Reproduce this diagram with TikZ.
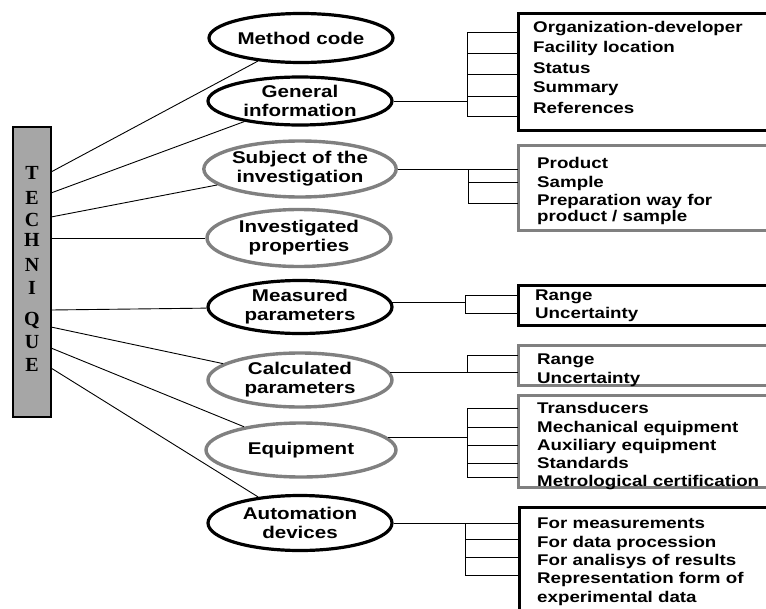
\documentclass[tikz,border=0pt]{standalone}
\usepackage{fontspec}
\newfontfamily\lbl{Liberation Sans}[FakeStretch=1.21]
\newfontfamily\tch{Liberation Serif}
\usetikzlibrary{shapes.geometric}
\begin{document}
\begin{tikzpicture}[x=1pt,y=-1pt,
  link/.style={line width=0.9pt},
  ovk/.style={ellipse, draw=black, line width=3.2pt, fill=white, minimum width=184pt, minimum height=52pt, inner sep=0pt, align=center, font=\lbl\bfseries\fontsize{17}{19}\selectfont},
  ovg/.style={ovk, draw=black!50, line width=3.4pt},
  boxk/.style={draw=black, line width=3pt, anchor=north west, inner sep=0pt, outer sep=0pt, minimum width=320pt},
  boxg/.style={boxk, draw=black!50},
  item/.style={anchor=west, inner sep=0pt, text height=11pt, text depth=0pt, font=\lbl\bfseries\fontsize{15.5}{18}\selectfont},
  letter/.style={inner sep=0pt, font=\tch\bfseries\fontsize{20}{20}\selectfont},
  techbox/.style={draw=black, line width=1.3pt, fill=black!35, anchor=north west, inner sep=0pt, outer sep=0pt, minimum width=38pt, minimum height=290pt}
]
\useasboundingbox (0,0) rectangle (766,608);
\clip (0,0) rectangle (766,608);

% TECHNIQUE column
\node[techbox] (tb) at (13,127) {};
\foreach \l/\y [count=\i] in {T/173,E/198,C/220,H/240,N/265,I/288,Q/320,U/342,E/365}
  \node[letter] (L\i) at (32,\y) {\l};

% ellipses
\node[ovk, minimum height=49pt] (e1) at (301,38) {Method code};
\node[ovk, minimum height=48pt] (e2) at (300,101) {General\\information};
\node[ovg, minimum height=56pt] (e3) at (300,169) {Subject of the\\investigation};
\node[ovg, minimum height=57pt] (e4) at (299,238) {Investigated\\properties};
\node[ovk, minimum height=53pt] (e5) at (300,307) {Measured\\parameters};
\node[ovg, minimum height=54pt] (e6) at (300,380) {Calculated\\parameters};
\node[ovg, minimum height=54pt, minimum width=190pt] (e7) at (301,450) {Equipment};
\node[ovk, minimum height=55pt] (e8) at (300,523) {Automation\\devices};

% links from TECHNIQUE
\foreach \y/\e in {172/e1,193/e2,217/e3,238/e4,310/e5,327/e6,348/e7,368/e8}
  \draw[link] (tb.east |- 0,\y) -- (\e);

% boxes
\node[boxk, minimum height=117pt] (b2) at (518,13) {};
\node[boxg, minimum height=85pt] (b3) at (518,145) {};
\node[boxk, minimum height=40pt] (b5) at (518,285) {};
\node[boxg, minimum height=40pt] (b6) at (518,345) {};
\node[boxg, minimum height=92pt] (b7) at (518,395) {};
\node[boxk, minimum height=140pt] (b8) at (519,507) {};

% brackets
\coordinate (j2) at (467,101);
\draw[link] (e2.east) -- (j2);
\draw[link] (467,32) -- (467,116);
\foreach \y in {32,53,74,96,116} \draw[link] (467,\y) -- (b2.west |- 0,\y);

\coordinate (j3) at (468,169);
\draw[link] (e3.east) -- (j3);
\draw[link] (468,169) -- (468,203);
\foreach \y in {169,182,203} \draw[link] (468,\y) -- (b3.west |- 0,\y);

\coordinate (j5) at (465,304);
\draw[link] (e5.3) -- (e5.3 -| j5);
\draw[link] (465,295) -- (465,313);
\foreach \y in {295,313} \draw[link] (465,\y) -- (b5.west |- 0,\y);

\coordinate (j6) at (467,372);
\draw[link] (e6.5) -- (e6.5 -| j6) coordinate (k6);
\draw[link] (467,355) -- (k6);
\foreach \y in {355} \draw[link] (467,\y) -- (b6.west |- 0,\y);
\draw[link] (k6) -- (b6.west |- k6);

\coordinate (j7) at (467,438);
\draw[link] (e7.8) -- (e7.8 -| j7);
\draw[link] (467,408) -- (467,477);
\foreach \y in {408,427,445,463,477} \draw[link] (467,\y) -- (b7.west |- 0,\y);

\coordinate (j8) at (465,523);
\draw[link] (e8.east) -- (j8);
\draw[link] (465,523) -- (465,575);
\foreach \y in {523,539,557,575} \draw[link] (465,\y) -- (b8.west |- 0,\y);

% box texts
\foreach \t/\y [count=\i] in {Organization-developer/27,Facility location/47,Status/68,Summary/87,References/108}
  \node[item] (t2-\i) at (533,\y) {\t};
\foreach \t/\y [count=\i] in {Product/163,Sample/182,Preparation way for/200,{product / sample}/216}
  \node[item] (t3-\i) at (537,\y) {\t};
\foreach \t/\y [count=\i] in {Range/295,Uncertainty/313}
  \node[item] (t5-\i) at (535,\y) {\t};
\foreach \t/\y [count=\i] in {Range/359,Uncertainty/378}
  \node[item] (t6-\i) at (537,\y) {\t};
\foreach \t/\y [count=\i] in {Transducers/408,Mechanical equipment/427,Auxiliary equipment/445,Standards/463,Metrological certification/481}
  \node[item] (t7-\i) at (537,\y) {\t};
\foreach \t/\y [count=\i] in {For measurements/523,For data procession/542,For analisys of results/560,Representation form of/578,experimental data/597}
  \node[item] (t8-\i) at (537,\y) {\t};
\end{tikzpicture}
\end{document}
